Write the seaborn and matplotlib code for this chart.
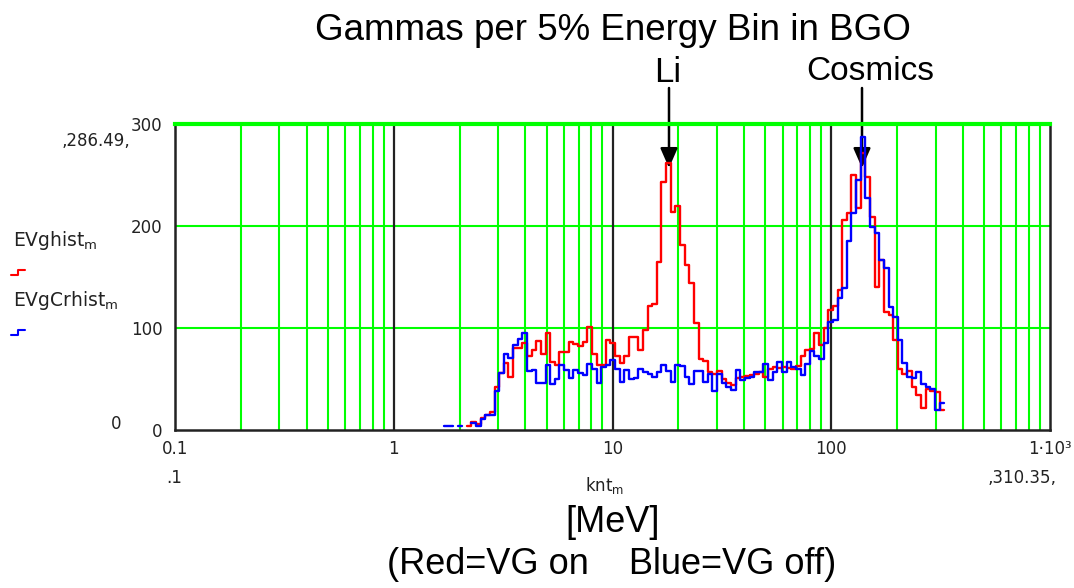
import numpy as np
import pandas as pd
import matplotlib
matplotlib.use("Agg")
import matplotlib.pyplot as plt
from matplotlib.lines import Line2D
import seaborn as sns

# ---------------- data ----------------
E_FIRST_EDGE = 1.69      # MeV, lower edge of first 5% bin
BIN_RATIO = 1.05         # 5% energy bins

# EVghist (red, VG on)   None = empty bin (not drawn)
red_counts = [None, None, None, None, None, 4, 8, 6, 12, 15,
              18, 42, 56, 66, 52, 80, 80, 85, 73, 78,
              87, 75, 95, 67, 64, 76, 76, 86, 84, 82,
              86, 101, 75, 64, 64, 88, 85, 73, 66, 73,
              91, 91, 78, 98, 122, 124, 165, 243, 262, 214,
              220, 181, 162, 144, 105, 70, 68, 57, 55, 58,
              50, 46, 44, 51, 52, 53, 54, 55, 57, 52,
              60, 62, 61, 62, 61, 60, 63, 73, 78, 79,
              95, 83, 100, 118, 122, 137, 206, 213, 250, 218,
              272, 248, 209, 140, 167, 116, 113, 88, 60, 55,
              58, 42, 34, 22, 40, 38, 37, 20]

# EVgCrhist (blue, VG off)
blue_counts = [4, 4, None, 4, None, None, 7, 4, 11, 15,
               15, 38, 56, 75, 71, 83, 89, 95, 58, 59,
               46, 46, 64, 45, 50, 64, 59, 51, 59, 56,
               54, 65, 60, 46, 62, 64, 69, 60, 47, 59,
               50, 51, 60, 57, 55, 52, 57, 64, 58, 47,
               64, 63, 52, 45, 58, 58, 47, 55, 38, 55,
               46, 42, 39, 59, 49, 51, 52, 57, 57, 65,
               49, 57, 67, 57, 67, 62, 60, 54, 65, 77,
               73, 70, 85, 106, 108, 129, 139, 185, 213, 245,
               287, 227, 199, 193, 167, 159, 121, 111, 88, 66,
               52, 51, 57, 45, 42, 40, 20, 26]

x_major = [0.1, 1, 10, 100, 1000]
x_major_labels = ["0.1", "1", "10", "100", "1·10³"]
y_ticks = [0, 100, 200, 300]
y_tick_labels = ["0", "100", "200", "300"]

title = "Gammas per 5% Energy Bin in BGO"
peak_labels = ["Li", "Cosmics"]
unit_label = "[MeV]"
note_label = "(Red=VG on    Blue=VG off)"

# ---------------- helpers ----------------
n_bins = len(red_counts)
edges = E_FIRST_EDGE * BIN_RATIO ** np.arange(n_bins + 1)


def steps_frame(values, name):
    rows = []
    seg = -1
    prev_missing = True
    for k, v in enumerate(values):
        if v is None:
            prev_missing = True
            continue
        if prev_missing:
            seg += 1
        rows.append((edges[k], v, seg))
        if k == len(values) - 1 or values[k + 1] is None:
            rows.append((edges[k + 1], v, seg))
        prev_missing = False
    df = pd.DataFrame(rows, columns=["energy", "count", "segment"])
    df["series"] = name
    return df


df_red = steps_frame(red_counts, "EVghist")
df_blue = steps_frame(blue_counts, "EVgCrhist")

W, H = 1074, 588
sns.set_theme(style="white")
plt.rcParams["font.family"] = ["DejaVu Sans"]

fig = plt.figure(figsize=(W / 100, H / 100), dpi=100)
fig.patch.set_facecolor("white")
ax = fig.add_axes([175 / W, 1 - 430 / H, (1050 - 175) / W, (430 - 124) / H])
ax.set_facecolor("white")
ax.set_xscale("log")

GREEN = "#00ff00"

sns.lineplot(data=df_red, x="energy", y="count", units="segment", estimator=None,
             color="#ff0000", drawstyle="steps-post", lw=1.7, ax=ax, legend=False, zorder=4)
sns.lineplot(data=df_blue, x="energy", y="count", units="segment", estimator=None,
             color="#0000ff", drawstyle="steps-post", lw=1.7, ax=ax, legend=False, zorder=5)

ax.set_xlim(0.1, 1000)
ax.set_ylim(0, 300)
ax.set_xlabel("")
ax.set_ylabel("")

# ticks
minor = [m * d for d in [0.1, 1, 10, 100] for m in range(2, 10)]
ax.set_xticks(x_major)
ax.set_xticklabels(x_major_labels)
ax.set_xticks(minor, minor=True)
ax.set_xticklabels([], minor=True)
ax.set_yticks(y_ticks)
ax.set_yticklabels(y_tick_labels)
ax.tick_params(axis="both", which="both", length=0)
ax.tick_params(axis="x", pad=7, labelsize=12, colors="#222222")
ax.tick_params(axis="y", pad=9, labelsize=12, colors="#222222")

# grid
ax.grid(False)
for v in minor:
    ax.axvline(v, color=GREEN, lw=1.5, zorder=1)
for v in [1, 10, 100]:
    ax.axvline(v, color="#222222", lw=1.6, zorder=2)
for v in [100, 200]:
    ax.axhline(v, color=GREEN, lw=1.5, zorder=1)

for s in ["left", "bottom", "right"]:
    ax.spines[s].set_color("#222222")
    ax.spines[s].set_linewidth(1.8)
ax.spines["top"].set_color(GREEN)
ax.spines["top"].set_linewidth(3)
for s in ax.spines.values():
    s.set_zorder(6)


def fx(x):
    return x / W


def fy(y):
    return 1 - y / H


# titles
tfont = dict(family=["Liberation Sans"], color="black")
fig.text(fx(613), fy(30), title, ha="center", va="center", fontsize=26.5, **tfont)
fig.text(fx(668), fy(72), peak_labels[0], ha="center", va="center", fontsize=25, **tfont)
fig.text(fx(870), fy(72), peak_labels[1], ha="center", va="center", fontsize=24, **tfont)
fig.text(fx(613), fy(523), unit_label, ha="center", va="center", fontsize=26, **tfont)
fig.text(fx(612), fy(565), note_label, ha="center", va="center", fontsize=26, **tfont)

# arrows
for xa in [669, 862]:
    ax.annotate("", xy=(fx(xa), fy(168)), xytext=(fx(xa), fy(88)),
                xycoords="figure fraction", textcoords="figure fraction",
                arrowprops=dict(arrowstyle="-|>,head_length=0.8,head_width=0.35",
                                color="black", lw=1.8, mutation_scale=15,
                                shrinkA=0, shrinkB=0),
                annotation_clip=False)

# Mathcad style labels
sfont = dict(family=["DejaVu Sans"], color="#222222")
fig.text(fx(96), fy(141), "‚286.49‚", ha="center", va="center", fontsize=12, **sfont)
fig.text(fx(116), fy(424), "0", ha="center", va="center", fontsize=12, **sfont)
fig.text(fx(174), fy(478), ".1", ha="center", va="center", fontsize=12, **sfont)
fig.text(fx(1022), fy(478), "‚310.35‚", ha="center", va="center", fontsize=12, **sfont)
fig.text(fx(605), fy(485), r"knt$_\mathrm{m}$", ha="center", va="center", fontsize=12, **sfont)

fig.text(fx(13), fy(240), r"EVghist$_\mathrm{m}$", ha="left", va="center", fontsize=13.5, **sfont)
fig.text(fx(13), fy(300), r"EVgCrhist$_\mathrm{m}$", ha="left", va="center", fontsize=13.5, **sfont)

# legend glyphs (small step symbols)
for yy, col in [(273, "#ff0000"), (333, "#0000ff")]:
    fig.add_artist(Line2D([fx(11), fx(18), fx(18), fx(25)],
                          [fy(yy + 2), fy(yy + 2), fy(yy - 3), fy(yy - 3)],
                          color=col, lw=1.5))

fig.savefig("out.png", dpi=100, facecolor="white")
